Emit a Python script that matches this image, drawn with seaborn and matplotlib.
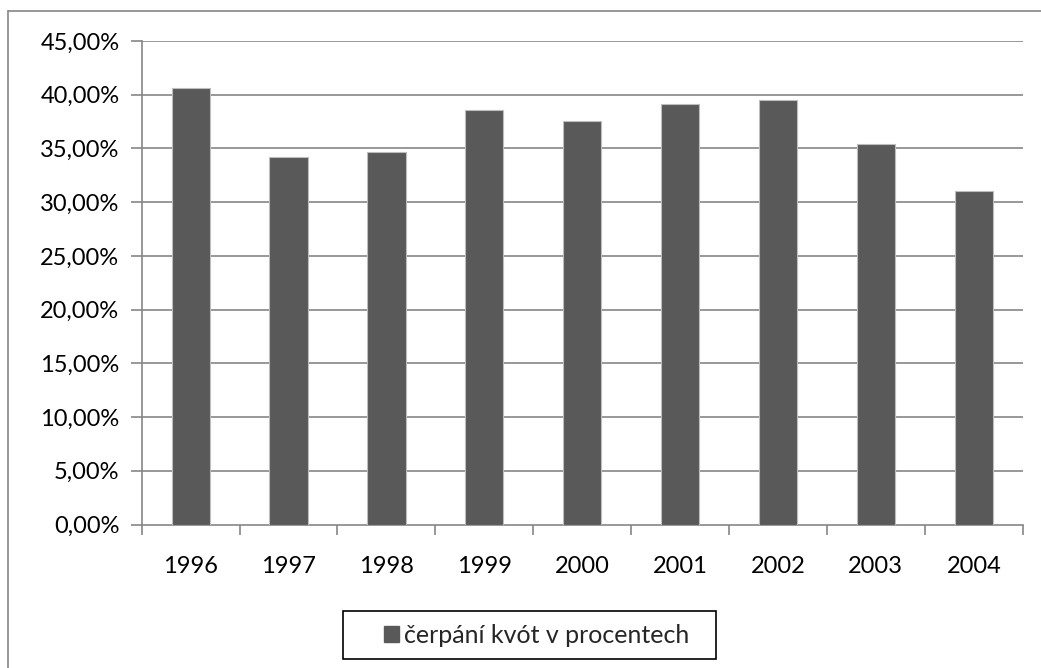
import matplotlib
matplotlib.use("Agg")
import matplotlib.pyplot as plt
import matplotlib.ticker as mticker
from matplotlib.patches import Patch, Rectangle
from matplotlib.lines import Line2D
import seaborn as sns
import pandas as pd

years = ["1996", "1997", "1998", "1999", "2000", "2001", "2002", "2003", "2004"]
values = [40.6, 34.2, 34.7, 38.6, 37.6, 39.1, 39.5, 35.4, 31.0]
series_name = "čerpání kvót v procentech"
y_ticks = [0, 5, 10, 15, 20, 25, 30, 35, 40, 45]

sns.set_theme(style="white")
plt.rcParams['font.family'] = ['Lato', 'DejaVu Sans']

W, H = 1041, 668
FS = 17
LFS = 18
fig = plt.figure(figsize=(W / 100, H / 100), dpi=100)
ax = fig.add_axes([141.7 / W, 1 - 524.5 / H, (1022.7 - 141.7) / W, (524.5 - 41) / H])

df = pd.DataFrame({"year": years, "value": values})
sns.barplot(data=df, x="year", y="value", color="#595959", width=0.39,
            edgecolor="#bdbdbd", linewidth=0.8, saturation=1, ax=ax, zorder=3)

grid_c = "#868686"
ax.set_ylim(0, 45)
ax.set_xlim(-0.5, len(years) - 0.5)
ax.set_yticks(y_ticks)
ax.yaxis.set_major_formatter(mticker.FuncFormatter(lambda v, p: f"{v:.2f}".replace(".", ",") + "%"))
for yv in y_ticks[1:]:
    ax.axhline(yv, color=grid_c, lw=1.2, zorder=1)

# x ticks: marks at boundaries, labels at centres
ax.set_xticks([i - 0.5 for i in range(len(years) + 1)])
ax.set_xticklabels([])
ax.set_xticks(range(len(years)), minor=True)
ax.set_xticklabels(years, minor=True)
ax.tick_params(axis="x", which="major", direction="out", length=7, width=1.2, color=grid_c, bottom=True)
ax.tick_params(axis="x", which="minor", length=0, pad=23, labelsize=FS, labelcolor="black")
ax.tick_params(axis="y", direction="out", length=8, width=1.2, color=grid_c, left=True,
               labelsize=FS, labelcolor="black", pad=8)

ax.set_xlabel("")
ax.set_ylabel("")
for s in ["top", "right"]:
    ax.spines[s].set_visible(False)
for s in ["left", "bottom"]:
    ax.spines[s].set_color(grid_c)
    ax.spines[s].set_linewidth(1.2)

# outer chart border (cropped at right/bottom)
fig.add_artist(Line2D([7.5 / W, 7.5 / W], [0, 1 - 11 / H], transform=fig.transFigure, color=grid_c, lw=1.2))
fig.add_artist(Line2D([7.5 / W, 1], [1 - 11 / H, 1 - 11 / H], transform=fig.transFigure, color=grid_c, lw=1.2))

# legend frame
fig.add_artist(Rectangle((343 / W, 1 - 659 / H), (716 - 343) / W, (659 - 611) / H,
                         transform=fig.transFigure, fill=False, edgecolor="black", lw=1.2))
px = LFS * 100 / 72
fig.legend(handles=[Patch(facecolor="#595959", edgecolor="#595959", label=series_name)],
           loc="center left", bbox_to_anchor=(384 / W, 1 - 635.5 / H), frameon=False,
           fontsize=LFS, handlelength=15 / px, handleheight=15 / px, handletextpad=5 / px,
           borderpad=0, borderaxespad=0)

fig.savefig("out.png", dpi=100)
